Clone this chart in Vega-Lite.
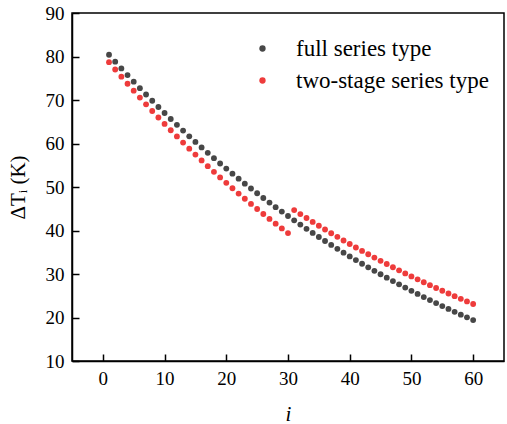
{
  "$schema": "https://vega.github.io/schema/vega-lite/v6.json",
  "autosize": {"type": "none"},
  "padding": {"left": 72, "top": 13, "right": 3, "bottom": 63},
  "width": 432,
  "height": 348,
  "config": {
    "font": "Times New Roman, Liberation Serif, serif",
    "view": {"stroke": "#000000", "strokeWidth": 1.5},
    "axis": {"grid": false, "domainColor": "#000000", "domainWidth": 1.5, "tickColor": "#000000", "tickWidth": 1.5, "tickOpacity": 1, "labelColor": "#000000", "titleColor": "#000000", "labelFont": "Times New Roman, Liberation Serif, serif", "titleFont": "Times New Roman, Liberation Serif, serif", "labelFontSize": 19, "titleFontSize": 21, "titleFontWeight": "normal"},
    "legend": {"labelFont": "Times New Roman, Liberation Serif, serif"}
  },
  "resolve": {"axis": {"x": "independent", "y": "independent"}},
  "datasets": {
    "full": [
      {"i":1,"dT":80.40},{"i":2,"dT":78.82},{"i":3,"dT":77.26},{"i":4,"dT":75.72},{"i":5,"dT":74.21},
      {"i":6,"dT":72.72},{"i":7,"dT":71.26},{"i":8,"dT":69.82},{"i":9,"dT":68.40},{"i":10,"dT":67.01},
      {"i":11,"dT":65.64},{"i":12,"dT":64.29},{"i":13,"dT":62.96},{"i":14,"dT":61.65},{"i":15,"dT":60.36},
      {"i":16,"dT":59.10},{"i":17,"dT":57.85},{"i":18,"dT":56.62},{"i":19,"dT":55.41},{"i":20,"dT":54.23},
      {"i":21,"dT":53.06},{"i":22,"dT":51.91},{"i":23,"dT":50.77},{"i":24,"dT":49.66},{"i":25,"dT":48.56},
      {"i":26,"dT":47.48},{"i":27,"dT":46.42},{"i":28,"dT":45.37},{"i":29,"dT":44.35},{"i":30,"dT":43.33},
      {"i":31,"dT":42.34},{"i":32,"dT":41.36},{"i":33,"dT":40.39},{"i":34,"dT":39.44},{"i":35,"dT":38.51},
      {"i":36,"dT":37.59},{"i":37,"dT":36.68},{"i":38,"dT":35.79},{"i":39,"dT":34.91},{"i":40,"dT":34.05},
      {"i":41,"dT":33.20},{"i":42,"dT":32.36},{"i":43,"dT":31.54},{"i":44,"dT":30.73},{"i":45,"dT":29.94},
      {"i":46,"dT":29.15},{"i":47,"dT":28.38},{"i":48,"dT":27.62},{"i":49,"dT":26.87},{"i":50,"dT":26.14},
      {"i":51,"dT":25.42},{"i":52,"dT":24.70},{"i":53,"dT":24.00},{"i":54,"dT":23.31},{"i":55,"dT":22.63},
      {"i":56,"dT":21.97},{"i":57,"dT":21.31},{"i":58,"dT":20.66},{"i":59,"dT":20.03},{"i":60,"dT":19.40}
    ],
    "two": [
      {"i":1,"dT":78.70},{"i":2,"dT":77.02},{"i":3,"dT":75.37},{"i":4,"dT":73.74},{"i":5,"dT":72.14},
      {"i":6,"dT":70.56},{"i":7,"dT":69.01},{"i":8,"dT":67.48},{"i":9,"dT":65.98},{"i":10,"dT":64.50},
      {"i":11,"dT":63.05},{"i":12,"dT":61.62},{"i":13,"dT":60.21},{"i":14,"dT":58.82},{"i":15,"dT":57.46},
      {"i":16,"dT":56.11},{"i":17,"dT":54.79},{"i":18,"dT":53.49},{"i":19,"dT":52.21},{"i":20,"dT":50.95},
      {"i":21,"dT":49.71},{"i":22,"dT":48.49},{"i":23,"dT":47.29},{"i":24,"dT":46.11},{"i":25,"dT":44.94},
      {"i":26,"dT":43.80},{"i":27,"dT":42.67},{"i":28,"dT":41.57},{"i":29,"dT":40.48},{"i":30,"dT":39.40},
      {"i":31,"dT":44.70},{"i":32,"dT":43.78},{"i":33,"dT":42.87},{"i":34,"dT":41.97},{"i":35,"dT":41.09},
      {"i":36,"dT":40.23},{"i":37,"dT":39.37},{"i":38,"dT":38.54},{"i":39,"dT":37.71},{"i":40,"dT":36.90},
      {"i":41,"dT":36.10},{"i":42,"dT":35.31},{"i":43,"dT":34.54},{"i":44,"dT":33.77},{"i":45,"dT":33.02},
      {"i":46,"dT":32.29},{"i":47,"dT":31.56},{"i":48,"dT":30.85},{"i":49,"dT":30.14},{"i":50,"dT":29.45},
      {"i":51,"dT":28.77},{"i":52,"dT":28.10},{"i":53,"dT":27.44},{"i":54,"dT":26.79},{"i":55,"dT":26.15},
      {"i":56,"dT":25.52},{"i":57,"dT":24.90},{"i":58,"dT":24.29},{"i":59,"dT":23.69},{"i":60,"dT":23.10}
    ]
  },
  "layer": [
    {
      "data": {"name": "full"},
      "transform": [{"calculate": "'full series type'", "as": "series"}],
      "mark": {"type": "point", "filled": true, "opacity": 1, "size": 34},
      "encoding": {
        "x": {"field": "i", "type": "quantitative", "scale": {"domain": [-5, 65], "nice": false, "zero": false},
              "axis": {"orient": "bottom", "values": [0,10,20,30,40,50,60], "ticks": false, "labelPadding": 8, "title": "i", "titleFontStyle": "italic", "titlePadding": 15}},
        "y": {"field": "dT", "type": "quantitative", "scale": {"domain": [10, 90], "nice": false, "zero": false},
              "axis": {"orient": "left", "values": [10,20,30,40,50,60,70,80,90], "ticks": false, "labelPadding": 8, "title": "ΔTᵢ (K)", "titlePadding": 17}},
        "color": {"field": "series", "type": "nominal",
                  "scale": {"domain": ["full series type", "two-stage series type"], "range": ["#474747", "#ee3b3b"]},
                  "legend": {"orient": "none", "legendX": 179, "legendY": 24, "title": null, "labelFont": "Times New Roman, Liberation Serif, serif", "labelFontSize": 23, "labelColor": "#000000", "labelLimit": 400, "symbolType": "circle", "symbolSize": 40, "symbolOpacity": 1, "labelOffset": 22, "rowPadding": 8}}
      }
    },
    {
      "data": {"name": "two"},
      "transform": [{"calculate": "'two-stage series type'", "as": "series"}],
      "mark": {"type": "point", "filled": true, "opacity": 1, "size": 34},
      "encoding": {
        "x": {"field": "i", "type": "quantitative",
              "axis": {"orient": "bottom", "values": [0,10,20,30,40,50,60], "offset": -7, "tickSize": 7, "ticks": true, "domain": false, "labels": false, "title": null}},
        "y": {"field": "dT", "type": "quantitative",
              "axis": {"orient": "left", "values": [10,20,30,40,50,60,70,80,90], "offset": -7, "tickSize": 7, "ticks": true, "domain": false, "labels": false, "title": null}},
        "color": {"field": "series", "type": "nominal"}
      }
    }
  ]
}
